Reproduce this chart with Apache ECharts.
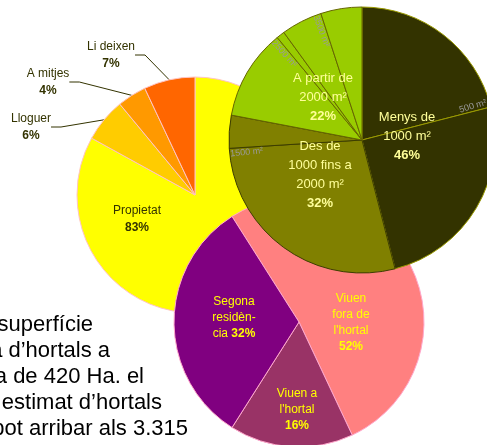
<!DOCTYPE html>
<html>
<head>
<meta charset="utf-8">
<script src="https://cdn.jsdelivr.net/npm/echarts@6/dist/echarts.min.js"></script>
<style>
  html, body { margin: 0; padding: 0; background: #fff; }
  #main { width: 487px; height: 445px; }
</style>
</head>
<body>
<div id="main"></div>
<script>
// tinença de l'hortal
const ownCats = ['Propietat', 'Lloguer', 'A mitjes', 'Li deixen'];
const ownVals = [83, 6, 4, 7];

// superfície de l'hortal (3 trams + subdivisions)
const sizeCats = ['Menys de\n1000 m²', 'Des de\n1000 fins a\n2000 m²', 'A partir de\n2000 m²'];
const sizeVals = [46, 32, 22];
const sizeSubVals = [21, 25, 28, 4, 11, 1, 5, 5];
const sizeSubGroup = [0, 0, 1, 1, 2, 2, 2, 2];
const sizeSubLabels = ['500 m²', '', '1500 m²', '', '2500 m²', '', '3500 m²', ''];

// residència
const resCats = ["Viuen\nfora de\nl'hortal\n%P", "Viuen a\nl'hortal\n%P", 'Segona\nresidèn-\ncia %P'];
const resVals = [52, 16, 32];

// text del fons
const noteLines = ['La superfície', 'estimada d’hortals a', 'aproximada de 420 Ha. el', 'nombre estimat d’hortals', 'pot arribar als 3.315'];
const noteRight = [93, 110, 144, 162, 188];

// posicions de les etiquetes
const ownLabelPos = [[137, 219], [31, 127], [48, 82], [111, 55]];
const sizeLabelPos = [[407, 136], [320, 175], [323, 97]];
const resLabelPos = [[351, 323], [297, 410], [234, 318]];

const ownColors = ['#FFFF00', '#FFCC00', '#FF9900', '#FF6600'];
const sizeColors = ['#333300', '#808000', '#99CC00'];
const sizeBorders = ['#9a9a00', '#3d3d00', '#666600'];
const resColors = ['#FF8080', '#993366', '#800080'];

function richText(txt, pct) {
  return txt.split('\n').map(function (line) {
    if (line.indexOf('%P') >= 0) {
      const pre = line.replace('%P', '');
      return (pre ? '{n|' + pre + '}' : '') + '{b|' + pct + '%}';
    }
    return '{n|' + line + '}';
  }).join('\n');
}

function fixedLayout(pos) {
  return function (p) {
    const xy = pos[p.dataIndex];
    return { x: xy[0], y: xy[1], align: 'center', verticalAlign: 'middle' };
  };
}

const cx = 362, cy = 140, R = 133;
const subTotal = sizeSubVals.reduce((a, b) => a + b, 0);
const subTexts = [];
let cum = 0;
sizeSubVals.forEach(function (v, i) {
  cum += v;
  if (!sizeSubLabels[i]) return;
  const theta = cum / subTotal * 360 - 2.5;
  const rad = theta * Math.PI / 180;
  const r = 116;
  const rot = theta < 180 ? 90 - theta : 270 - theta;
  subTexts.push({
    type: 'text',
    x: cx + r * Math.sin(rad),
    y: cy - r * Math.cos(rad),
    rotation: rot * Math.PI / 180,
    z: 20,
    silent: true,
    style: {
      text: sizeSubLabels[i],
      fill: '#9a9a9a',
      fontSize: 9,
      fontFamily: 'Liberation Sans',
      align: 'center', textAlign: 'center',
      verticalAlign: 'middle', textVerticalAlign: 'middle'
    }
  });
});

const noteTexts = noteLines.map(function (t, i) {
  return {
    type: 'text',
    x: noteRight[i],
    y: 325 + i * 26,
    z: 0,
    silent: true,
    style: {
      text: t,
      fill: '#000',
      fontSize: 22,
      fontFamily: 'Liberation Sans',
      align: 'right', textAlign: 'right',
      verticalAlign: 'middle', textVerticalAlign: 'middle'
    }
  };
});

const chart = echarts.init(document.getElementById('main'));
chart.setOption({
  animation: false,
  backgroundColor: '#fff',
  textStyle: { fontFamily: 'Liberation Sans' },
  graphic: { elements: noteTexts.concat(subTexts) },
  series: [
    {
      type: 'pie',
      z: 2,
      center: [195, 195],
      radius: 118,
      startAngle: 90,
      avoidLabelOverlap: false,
      itemStyle: { borderColor: '#FFC4C4', borderWidth: 1 },
      label: {
        position: 'outside',
        color: '#333300',
        formatter: p => richText(p.name + '\n%P', p.value),
        rich: {
          n: { fontSize: 12, color: '#333300', lineHeight: 17 },
          b: { fontSize: 12, fontWeight: 'bold', color: '#333300', lineHeight: 17 }
        }
      },
      labelLine: { show: true, length: 10, length2: 10, lineStyle: { color: '#333300', width: 1 } },
      labelLayout: fixedLayout(ownLabelPos),
      data: ownCats.map((c, i) => ({
        name: c, value: ownVals[i],
        itemStyle: { color: ownColors[i] },
        label: i === 0 ? { position: 'inside' } : {},
        labelLine: { show: i !== 0 }
      }))
    },
    {
      type: 'pie',
      z: 3,
      center: [299, 322],
      radius: 125,
      startAngle: 122.4,
      avoidLabelOverlap: false,
      itemStyle: { borderColor: '#FFA8CC', borderWidth: 1 },
      label: {
        position: 'inside',
        formatter: p => richText(resCats[p.dataIndex], p.value),
        rich: {
          n: { fontSize: 12, color: '#FFFF00', lineHeight: 16 },
          b: { fontSize: 12, fontWeight: 'bold', color: '#FFFF00', lineHeight: 16 }
        }
      },
      labelLine: { show: false },
      labelLayout: fixedLayout(resLabelPos),
      data: resCats.map((c, i) => ({ name: c, value: resVals[i], itemStyle: { color: resColors[i] } }))
    },
    {
      type: 'pie',
      z: 4,
      center: [cx, cy],
      radius: R,
      startAngle: 90,
      silent: true,
      label: { show: false },
      labelLine: { show: false },
      data: sizeSubVals.map((v, i) => ({
        name: 's' + i, value: v,
        itemStyle: { color: sizeColors[sizeSubGroup[i]], borderColor: sizeBorders[sizeSubGroup[i]], borderWidth: 1 }
      }))
    },
    {
      type: 'pie',
      z: 5,
      center: [cx, cy],
      radius: R,
      startAngle: 90,
      silent: true,
      avoidLabelOverlap: false,
      itemStyle: { color: 'transparent', borderWidth: 0 },
      label: {
        position: 'inside',
        formatter: p => richText(sizeCats[p.dataIndex] + '\n%P', p.value),
        rich: {
          n: { fontSize: 13, color: '#FFFF99', lineHeight: 19 },
          b: { fontSize: 13, fontWeight: 'bold', color: '#FFFF99', lineHeight: 19 }
        }
      },
      labelLine: { show: false },
      labelLayout: fixedLayout(sizeLabelPos),
      data: sizeCats.map((c, i) => ({ name: c, value: sizeVals[i] }))
    }
  ]
});
</script>
</body>
</html>
